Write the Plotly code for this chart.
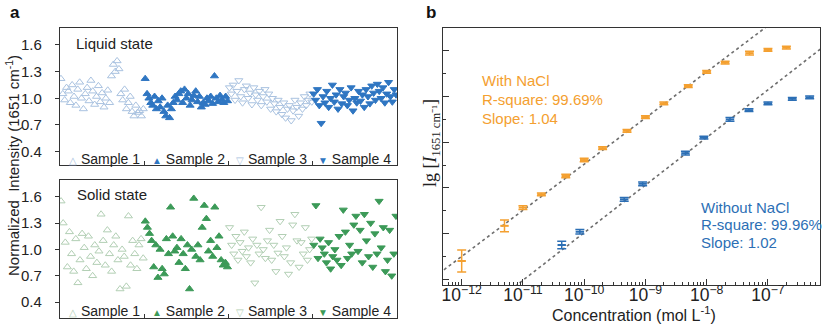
import plotly.graph_objects as go
import numpy as np

W, H = 823, 326

# ---------------- Panel a data (normalized intensity) ----------------
liquid_s1 = [1.22,1.05,0.98,1.12,1.08,0.95,1.15,1.02,0.92,1.10,1.18,1.00,0.88,1.05,1.12,0.97,1.20,1.08,0.93,1.02,1.14,0.96,1.06,0.90,1.00,1.09,0.95,1.25,1.38,1.30,1.42,1.33,1.05,0.98,1.10,0.88,0.95,1.02,0.85,0.80,0.92,0.84,0.86,0.80,0.88]
liquid_s2 = [1.22,1.05,1.00,0.95,0.92,1.02,0.88,0.97,0.90,1.00,0.85,0.80,0.92,0.78,0.88,0.95,1.02,0.98,1.05,1.08,0.95,1.10,1.00,1.05,0.92,0.98,1.03,1.08,0.96,1.02,0.90,0.95,0.93,1.00,0.97,1.02,0.94,1.25,1.00,0.96,1.03,0.98,0.95,1.02,0.97]
liquid_s3 = [1.12,1.05,1.15,0.98,1.08,1.20,1.02,0.95,1.10,1.14,1.00,1.06,0.93,1.12,1.04,0.98,1.08,0.92,1.02,1.10,0.96,1.05,0.88,1.00,0.94,0.85,0.98,0.90,0.82,0.95,0.78,0.88,0.92,0.75,0.86,0.98,0.90,0.80,0.95,0.88,1.02,0.92,0.98,1.05,0.96]
liquid_s4 = [1.05,0.98,1.10,0.92,0.72,1.02,0.95,1.08,0.90,1.00,1.15,0.96,1.04,0.88,1.10,0.94,1.02,1.06,0.92,0.98,1.12,0.86,1.00,0.95,1.08,0.97,1.04,0.90,1.10,1.02,0.94,1.14,1.06,0.98,1.16,1.08,1.00,1.12,0.95,1.05,1.18,1.02,0.96,1.10,1.04]

solid_s1 = [1.55,1.30,1.08,0.80,1.20,0.95,0.75,1.12,0.62,0.88,1.18,1.02,0.78,1.15,0.92,0.70,1.05,0.85,0.98,1.40,1.10,0.82,1.22,0.95,0.75,1.05,1.15,0.88,0.55,1.00,0.92,0.58,1.38,0.82,1.10,0.95,0.78,1.05,1.12,0.90]
solid_s2 = [1.32,1.25,1.18,1.10,0.80,1.05,0.68,1.00,0.78,0.72,1.12,0.95,1.48,1.15,0.98,1.02,0.85,1.12,0.95,0.78,1.05,0.55,1.00,1.58,0.92,1.05,0.88,1.25,1.50,1.35,0.98,1.10,0.92,1.48,1.02,1.15,0.88,0.82,0.85,0.80]
solid_s3 = [1.25,1.05,0.95,1.15,0.88,1.08,0.98,1.20,0.92,1.02,0.85,1.12,0.62,1.05,0.95,1.48,1.00,0.90,1.10,1.22,0.88,1.05,0.75,0.96,1.32,1.15,0.92,1.02,0.72,0.85,1.28,1.40,1.10,0.80,1.08,0.95,1.25,0.88,1.00,1.12]
solid_s4 = [1.05,1.50,0.90,1.12,1.02,0.95,0.85,1.08,0.78,0.92,1.00,0.88,1.15,0.82,1.45,1.20,0.90,1.05,0.95,1.28,1.38,0.98,1.22,0.85,1.40,1.10,0.92,1.30,0.80,1.18,0.95,1.55,1.02,1.25,0.75,0.88,1.22,0.70,0.95,1.38]

sample_names = ["Sample 1", "Sample 2", "Sample 3", "Sample 4"]
a_ticks = [0.4, 0.7, 1.0, 1.3, 1.6]

# ---------------- Panel b data ----------------
conc_with = [1e-12, 5e-12, 1e-11, 2e-11, 5e-11, 1e-10, 2e-10, 5e-10, 1e-9, 2e-9, 5e-9, 1e-8, 2e-8, 5e-8, 1e-7, 2e-7]
lg_with = [1.40, 2.17, 2.57, 2.86, 3.26, 3.61, 3.87, 4.25, 4.55, 4.85, 5.23, 5.54, 5.74, 5.95, 6.02, 6.07]
err_with = [0.24, 0.13, 0.04, 0.03, 0.04, 0.04, 0.03, 0.03, 0.03, 0.03, 0.03, 0.03, 0.03, 0.04, 0.03, 0.03]

conc_without = [4.3e-11, 8.5e-11, 4.5e-10, 9e-10, 4.5e-9, 9e-9, 2.4e-8, 4.9e-8, 1e-7, 2.5e-7, 4.8e-7]
lg_without = [1.75, 2.04, 2.75, 3.09, 3.76, 4.10, 4.50, 4.70, 4.85, 4.95, 4.98]
err_without = [0.08, 0.05, 0.04, 0.04, 0.04, 0.03, 0.04, 0.03, 0.03, 0.03, 0.03]

fit_with = {"slope": 1.01, "intercept": 13.62}
fit_without = {"slope": 1.042, "intercept": 12.44}
fit_span = [2.5e-13, 1e-6]

# ---------------- colours ----------------
liq_light = "#A9C2E0"
liq_dark = "#2F76C2"
sol_light = "#B2CFB4"
sol_dark = "#3C9A58"
orange = "#F4A030"
blue_b = "#2C6FB5"
frame = "#333333"
FONT = "Arial, Liberation Sans, sans-serif"

fig = go.Figure()

def px_x(p):
    return p / W

def px_y(p):
    return 1 - p / H

# ---- panel a traces ----
def add_state(series, xa, ya, light, dark):
    n = len(series[0])
    symbols = ["triangle-up-open", "triangle-up", "triangle-down-open", "triangle-down"]
    for k, vals in enumerate(series):
        xs = [k * n + i + 0.5 for i in range(len(vals))]
        col = light if k % 2 == 0 else dark
        fig.add_trace(go.Scatter(
            x=xs, y=vals, mode="markers", xaxis=xa, yaxis=ya, showlegend=False,
            marker=dict(symbol=symbols[k], size=7, color=col,
                        line=dict(color=col, width=1)),
        ))
    return n

n_liq = add_state([liquid_s1, liquid_s2, liquid_s3, liquid_s4], "x", "y", liq_light, liq_dark)
n_sol = add_state([solid_s1, solid_s2, solid_s3, solid_s4], "x2", "y2", sol_light, sol_dark)

# ---- panel b traces ----
for conc, lg, err, col, fit in [(conc_with, lg_with, err_with, orange, fit_with),
                                (conc_without, lg_without, err_without, blue_b, fit_without)]:
    fx = np.array(fit_span)
    fy = fit["intercept"] + fit["slope"] * np.log10(fx)
    fig.add_trace(go.Scatter(x=fx, y=fy, mode="lines", xaxis="x3", yaxis="y3", showlegend=False,
                             line=dict(color="#6E6E6E", width=1.6, dash="dot")))
    fig.add_trace(go.Scatter(
        x=conc, y=lg, mode="markers", xaxis="x3", yaxis="y3", showlegend=False,
        marker=dict(symbol="line-ew-open", size=6, color=col, line=dict(color=col, width=2)),
        error_y=dict(type="data", array=err, visible=True, color=col, thickness=1.5, width=4.5),
    ))

# ---- axes ----
axis_common = dict(showline=True, linecolor=frame, linewidth=1.2, mirror=True,
                   showgrid=False, zeroline=False)

fig.update_layout(
    width=W, height=H, margin=dict(l=0, r=0, t=0, b=0),
    paper_bgcolor="white", plot_bgcolor="white",
    font=dict(family=FONT, color="#222222", size=13),
    xaxis=dict(domain=[px_x(60), px_x(397)], range=[0, 4 * n_liq], tickvals=[k * n_liq for k in range(5)],
               ticks="inside", ticklen=4, tickcolor=frame, showticklabels=False, anchor="y", **axis_common),
    yaxis=dict(domain=[px_y(165), px_y(28)], range=[0.25, 1.79], tickvals=a_ticks,
               ticktext=[f"{v:.1f}" for v in a_ticks], ticks="outside", ticklen=4, tickcolor=frame,
               ticklabelstandoff=10, tickfont=dict(size=15), anchor="x", **axis_common),
    xaxis2=dict(domain=[px_x(60), px_x(397)], range=[0, 4 * n_sol], tickvals=[k * n_sol for k in range(5)],
                ticks="inside", ticklen=4, tickcolor=frame, showticklabels=False, anchor="y2", **axis_common),
    yaxis2=dict(domain=[px_y(318), px_y(180)], range=[0.22, 1.79], tickvals=a_ticks,
                ticktext=[f"{v:.1f}" for v in a_ticks], ticks="outside", ticklen=4, tickcolor=frame,
                ticklabelstandoff=10, tickfont=dict(size=15), anchor="x2", **axis_common),
    xaxis3=dict(domain=[px_x(443), px_x(820)], type="log", range=[-12.305, -6.15],
                tickmode="linear", tick0=0, dtick=1, exponentformat="power", showexponent="all",
                ticks="inside", ticklen=6, tickcolor=frame, tickfont=dict(size=14),
                ticklabelstandoff=-5,
                minor=dict(ticks="inside", ticklen=3, tickcolor=frame, dtick="D1"),
                anchor="y3", **axis_common),
    yaxis3=dict(domain=[px_y(285), px_y(28)], range=[0.875, 6.5], tick0=1, dtick=1,
                ticks="inside", ticklen=6, tickcolor=frame, showticklabels=False,
                minor=dict(ticks="inside", ticklen=3, tickcolor=frame, dtick=0.5),
                anchor="x3", **axis_common),
)

ann = []
# panel letters
ann.append(dict(text="<b>a</b>", x=px_x(8), y=px_y(13), xref="paper", yref="paper",
                showarrow=False, xanchor="left", yanchor="middle", font=dict(size=17, color="#111")))
ann.append(dict(text="<b>b</b>", x=px_x(424), y=px_y(13), xref="paper", yref="paper",
                showarrow=False, xanchor="left", yanchor="middle", font=dict(size=17, color="#111")))
# state titles
ann.append(dict(text="Liquid state", x=px_x(74), y=px_y(43), xref="paper", yref="paper",
                showarrow=False, xanchor="left", yanchor="middle", font=dict(size=15)))
ann.append(dict(text="Solid state", x=px_x(75), y=px_y(194), xref="paper", yref="paper",
                showarrow=False, xanchor="left", yanchor="middle", font=dict(size=15)))
# sample labels
sym_chars = ["△", "▲", "▽", "▼"]
seg_centers = [104, 188, 271, 354]
for row_y, light, dark in [(159, liq_light, liq_dark), (311, sol_light, sol_dark)]:
    for k, name in enumerate(sample_names):
        col = light if k % 2 == 0 else dark
        ann.append(dict(text=f"<span style='color:{col};font-size:10px'>{sym_chars[k]}</span> {name}",
                        x=px_x(seg_centers[k]), y=px_y(row_y), xref="paper", yref="paper",
                        showarrow=False, xanchor="center", yanchor="middle", font=dict(size=14)))
# panel a y title
ann.append(dict(text="Normalized  Intensity (1651 cm<sup>-1</sup>)", x=px_x(13), y=px_y(166),
                xref="paper", yref="paper", showarrow=False, textangle=-90,
                xanchor="center", yanchor="middle", font=dict(size=15)))
# panel b axis titles
ann.append(dict(text="lg [<i>I</i><sub>1651 cm⁻¹</sub>]", x=px_x(431), y=px_y(143),
                xref="paper", yref="paper", showarrow=False, textangle=-90,
                xanchor="center", yanchor="middle",
                font=dict(size=18, family="Liberation Serif, Times New Roman, serif")))
ann.append(dict(text="Concentration (mol L<sup>-1</sup>)", x=px_x(634), y=px_y(313.5),
                xref="paper", yref="paper", showarrow=False, xanchor="center", yanchor="middle",
                font=dict(size=16)))
# fit texts
for i, t in enumerate(["With NaCl", "R-square: 99.69%", "Slope: 1.04"]):
    ann.append(dict(text=t, x=px_x(480), y=px_y(80 + 19 * i), xref="paper", yref="paper",
                    showarrow=False, xanchor="left", yanchor="middle", font=dict(size=15, color=orange)))
for i, t in enumerate(["Without NaCl", "R-square: 99.96%", "Slope: 1.02"]):
    ann.append(dict(text=t, x=px_x(699), y=px_y(207 + 17.5 * i), xref="paper", yref="paper",
                    showarrow=False, xanchor="left", yanchor="middle", font=dict(size=15, color=blue_b)))

fig.update_layout(annotations=ann)
fig.write_html("out.html")
